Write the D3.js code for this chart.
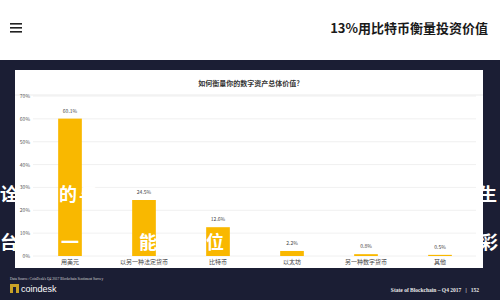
<!DOCTYPE html>
<html>
<head>
<meta charset="utf-8">
<script src="https://cdn.jsdelivr.net/npm/d3@7"></script>
<style>
  body { margin: 0; background: #fff; }
  svg { display: block; font-family: "Noto Sans CJK SC", "Noto Sans", sans-serif; }
</style>
</head>
<body>
<script>

// chart data
var categories = ["用美元", "以另一种法定货币", "比特币", "以太坊", "另一种数字货币", "其他"];
var shares = [60.1, 24.5, 12.6, 2.2, 0.8, 0.5];
var shareLabels = ["60.1%", "24.5%", "12.6%", "2.2%", "0.8%", "0.5%"];
var yTicks = [0, 10, 20, 30, 40, 50, 60, 70];

var pageTitle = "13%用比特币衡量投资价值";
var chartTitle = "如何衡量你的数字资产总体价值?";
var sourceText = "Data Source: CoinDesk's Q4 2017 Blockchain Sentiment Survey";
var footerText = "State of Blockchain – Q4 2017   |   152";

// subtitle characters that sit over the picture
var overlayRow1 = ["诠", "的", "与", "生"];
var overlayRow2 = ["台", "一", "能", "位", "彩"];

var W = 500, H = 300;

var svg = d3.select("body").append("svg").attr("width", W).attr("height", H);

// page header
svg.append("rect").attr("width", W).attr("height", 60).attr("fill", "#ffffff");
[24, 28, 32].forEach(function(yy){
  svg.append("rect").attr("x", 10).attr("y", yy - 1).attr("width", 12).attr("height", 1.6).attr("fill", "#222");
});
svg.append("text")
   .attr("x", 488).attr("y", 33)
   .attr("text-anchor", "end")
   .attr("font-size", 13).attr("font-weight", "bold").attr("fill", "#1a1a1a")
   .text(pageTitle);

// dark slide
svg.append("rect").attr("x", 0).attr("y", 60).attr("width", W).attr("height", H - 60).attr("fill", "#1b1e34");

// white panel
svg.append("rect").attr("x", 15).attr("y", 70).attr("width", 468).attr("height", 198).attr("fill", "#ffffff");
svg.append("text")
   .attr("x", 249).attr("y", 86)
   .attr("text-anchor", "middle")
   .attr("font-size", 7).attr("font-weight", "bold").attr("fill", "#333")
   .text(chartTitle);
svg.append("line").attr("x1", 15).attr("x2", 483).attr("y1", 95).attr("y2", 95)
   .attr("stroke", "#e6e6e6").attr("stroke-width", 0.8);

var x = d3.scaleBand()
          .domain(categories)
          .range([33, 477])
          .paddingInner(0.68)
          .paddingOuter(0.34);

var y = d3.scaleLinear()
          .domain([0, 70])
          .range([256, 96]);

var chartGroup = svg.append("g");

chartGroup.selectAll("line.grid")
   .data(yTicks)
   .enter().append("line")
   .attr("class", "grid")
   .attr("x1", 33).attr("x2", 476)
   .attr("y1", function(d){ return y(d); })
   .attr("y2", function(d){ return y(d); })
   .attr("stroke", "#ececec").attr("stroke-width", 0.8);

chartGroup.selectAll("text.ytick")
   .data(yTicks)
   .enter().append("text")
   .attr("class", "ytick")
   .attr("x", 30)
   .attr("y", function(d){ return y(d) + 2; })
   .attr("text-anchor", "end")
   .attr("font-size", 5).attr("fill", "#555")
   .text(function(d){ return d + "%"; });

chartGroup.selectAll("rect.bar")
   .data(shares)
   .enter().append("rect")
   .attr("class", "bar")
   .attr("x", function(d, i){ return x(categories[i]); })
   .attr("y", function(d){ return y(d); })
   .attr("width", x.bandwidth())
   .attr("height", function(d){ return y(0) - y(d); })
   .attr("fill", "#f9b800");

chartGroup.selectAll("text.val")
   .data(shares)
   .enter().append("text")
   .attr("class", "val")
   .attr("x", function(d, i){ return x(categories[i]) + x.bandwidth() / 2; })
   .attr("y", function(d){ return y(d) - 6; })
   .attr("text-anchor", "middle")
   .attr("font-size", 5).attr("fill", "#444")
   .text(function(d, i){ return shareLabels[i]; });

chartGroup.selectAll("text.cat")
   .data(categories)
   .enter().append("text")
   .attr("class", "cat")
   .attr("x", function(d){ return x(d) + x.bandwidth() / 2; })
   .attr("y", 264)
   .attr("text-anchor", "middle")
   .attr("font-size", 6).attr("fill", "#444")
   .text(function(d){ return d; });

// footer
svg.append("text").attr("x", 10).attr("y", 280)
   .attr("font-size", 3.6).attr("fill", "#d8d8d8").attr("font-family", "Liberation Serif")
   .text(sourceText);
svg.append("rect").attr("x", 10).attr("y", 284).attr("width", 9).attr("height", 9).attr("fill", "#c9a227");
svg.append("rect").attr("x", 13).attr("y", 287).attr("width", 3).attr("height", 6).attr("fill", "#1b1e34");
svg.append("text").attr("x", 21).attr("y", 292)
   .attr("font-size", 9).attr("fill", "#ffffff").attr("font-family", "Liberation Sans")
   .text("coindesk");
svg.append("text").attr("x", 479).attr("y", 292)
   .attr("text-anchor", "end").attr("xml:space", "preserve")
   .attr("font-size", 5.5).attr("fill", "#e8e8e8").attr("font-family", "Liberation Serif").attr("font-weight", "bold")
   .text(footerText);

// subtitle overlay (white, so it only shows over the dark slide and the bars)
var row1X = [9, 68, 88, 488];
var row2X = [9, 70, 148, 215, 489];
function overlay(chars, xs, yy){
  svg.selectAll(null)
     .data(chars)
     .enter().append("text")
     .attr("x", function(d, i){ return xs[i]; })
     .attr("y", yy)
     .attr("text-anchor", "middle")
     .attr("font-size", 18).attr("font-weight", "bold")
     .attr("fill", "#ffffff")
     .text(function(d){ return d; });
}
overlay(overlayRow1, row1X, 201);
overlay(overlayRow2, row2X, 249);

</script>
</body>
</html>
